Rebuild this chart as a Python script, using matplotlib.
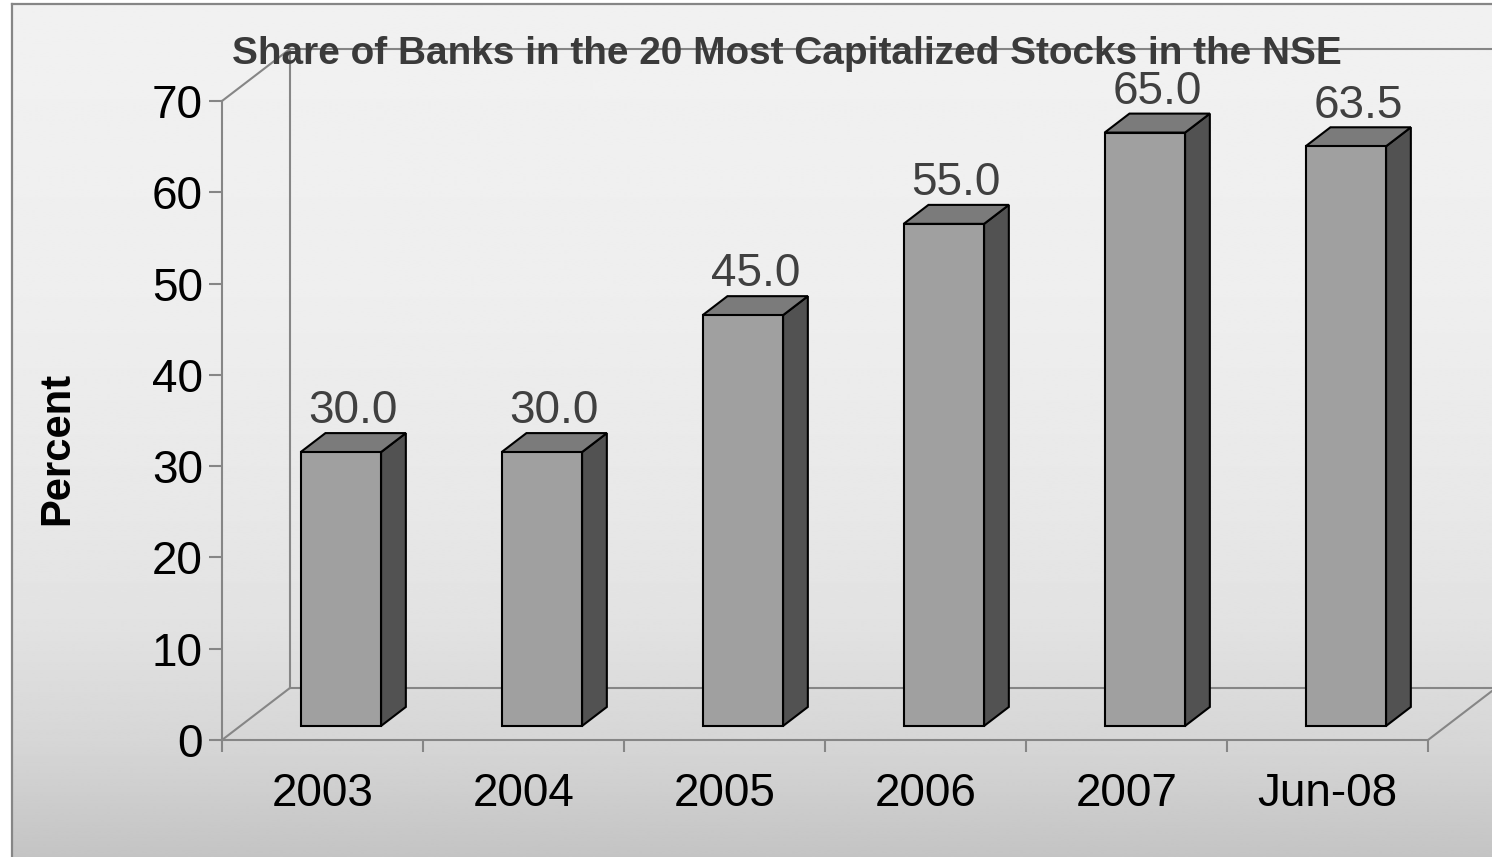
import numpy as np
import matplotlib
matplotlib.use("Agg")
import matplotlib.pyplot as plt
from matplotlib import font_manager
from matplotlib.patches import Polygon
from matplotlib.lines import Line2D

# ---- data -------------------------------------------------------------
categories = ["2003", "2004", "2005", "2006", "2007", "Jun-08"]
share = [30.0, 30.0, 45.0, 55.0, 65.0, 63.5]
y_ticks = [0, 10, 20, 30, 40, 50, 60, 70]
title = "Share of Banks in the 20 Most Capitalized Stocks in the NSE"
y_label = "Percent"

# ---- styling ----------------------------------------------------------
W, H, DPI = 1492, 857, 100
installed = {f.name for f in font_manager.fontManager.ttflist}
narrow = "Liberation Sans Narrow" in installed
base_family = "Liberation Sans Narrow" if narrow else "Liberation Sans"
plt.rcParams["font.family"] = [base_family, "DejaVu Sans"]
FS = 35 if narrow else 33

AXIS_GREY = "#868686"
FRONT, TOP, SIDE = "#a0a0a0", "#7b7b7b", "#525252"

# oblique projection used for the pseudo-3D look
DEPTH_X = 0.338      # category units shifted per full depth
DEPTH_Y = 5.7        # value units shifted per full depth
Z0, Z1 = 0.27, 0.635 # front / back of every bar, as fraction of depth
HALF_W = 0.2         # half bar width in category units


def proj(x, y, z):
    return (x + z * DEPTH_X, y + z * DEPTH_Y)


fig = plt.figure(figsize=(W / DPI, H / DPI), dpi=DPI, facecolor="white")

# chart-area panel with a soft vertical gradient
bg = fig.add_axes([12 / W, 0, 1 - 12 / W, 1 - 4 / H], zorder=0)
rows = np.linspace(0, 853, 400)
stops_y = [0, 300, 500, 620, 740, 853]
stops_v = [241, 238, 232, 226, 214, 196]
grad = np.interp(rows, stops_y, stops_v) / 255.0
bg.imshow(np.repeat(grad[:, None], 2, axis=1), cmap="gray", vmin=0, vmax=1,
          aspect="auto", extent=[0, 1, 0, 1], origin="upper", interpolation="bilinear")
bg.set_xticks([])
bg.set_yticks([])
for side in ("right", "bottom"):
    bg.spines[side].set_visible(False)
for side in ("left", "top"):
    bg.spines[side].set_color(AXIS_GREY)
    bg.spines[side].set_linewidth(1.6)

# main plotting axes (front plane)
ax = fig.add_axes([222 / W, 1 - 740 / H, (1428 - 222) / W, (740 - 101) / H], zorder=1)
ax.set_facecolor("none")
n = len(categories)
ymax = y_ticks[-1]
ax.set_xlim(0, n)
ax.set_ylim(0, ymax)
for side in ("top", "right"):
    ax.spines[side].set_visible(False)
for side in ("left", "bottom"):
    ax.spines[side].set_color(AXIS_GREY)
    ax.spines[side].set_linewidth(1.5)

ax.set_yticks(y_ticks)
ax.set_yticklabels([str(t) for t in y_ticks])
ax.tick_params(axis="y", direction="out", length=9.4, width=1.5, color=AXIS_GREY,
               pad=4.3, labelsize=FS, labelcolor="black")
ax.set_xticks(np.arange(n + 1))
ax.set_xticklabels([])
ax.tick_params(axis="x", which="major", direction="out", length=8.6, width=1.5,
               color=AXIS_GREY)
ax.set_xticks(np.arange(n) + 0.5, minor=True)
ax.set_xticklabels(categories, minor=True)
ax.tick_params(axis="x", which="minor", length=0, pad=23, labelsize=FS,
               labelcolor="black")

# back wall and floor outlines
wall_segments = [
    (proj(0, 0, 0), proj(0, 0, 1)),
    (proj(0, ymax, 0), proj(0, ymax, 1)),
    (proj(0, 0, 1), proj(0, ymax, 1)),
    (proj(0, 0, 1), proj(n, 0, 1)),
    (proj(0, ymax, 1), proj(n, ymax, 1)),
    (proj(n, 0, 0), proj(n, 0, 1)),
    (proj(n, 0, 1), proj(n, ymax, 1)),
]
for a, b in wall_segments:
    ax.add_line(Line2D([a[0], b[0]], [a[1], b[1]], color=AXIS_GREY, lw=1.5,
                       clip_on=False, zorder=1))

# pseudo-3D bars
for i, v in enumerate(share):
    xl, xr = i + 0.5 - HALF_W, i + 0.5 + HALF_W
    front = [proj(xl, 0, Z0), proj(xr, 0, Z0), proj(xr, v, Z0), proj(xl, v, Z0)]
    side = [proj(xr, 0, Z0), proj(xr, 0, Z1), proj(xr, v, Z1), proj(xr, v, Z0)]
    top = [proj(xl, v, Z0), proj(xr, v, Z0), proj(xr, v, Z1), proj(xl, v, Z1)]
    for pts, col in ((side, SIDE), (top, TOP), (front, FRONT)):
        ax.add_patch(Polygon(pts, closed=True, facecolor=col, edgecolor="black",
                             lw=1.5, joinstyle="miter", clip_on=False, zorder=3))
    lx = proj(i + 0.5, v, (Z0 + Z1) / 2)[0]
    ly = proj(i + 0.5, v, Z1)[1]
    ax.annotate(f"{v:.1f}", xy=(lx, ly), xytext=(0, 7), textcoords="offset points",
                ha="center", va="baseline", fontsize=FS, color="#404040",
                annotation_clip=False, zorder=4)

# title and axis label
t_title = fig.text(787 / W, 1 - 64 / H, title, ha="center", va="baseline",
                   fontsize=32, fontweight="bold", color="#3a3a3a", zorder=5)
t_ylab = fig.text(57 / W, 1 - 448 / H, y_label, rotation=90, ha="center",
                  va="center", fontsize=35, fontweight="bold", color="black", zorder=5)

renderer = fig.canvas.get_renderer()
bb = t_title.get_window_extent(renderer)
t_title.set_fontsize(t_title.get_fontsize() * min(1.0, 1110 / bb.width))
bb = t_ylab.get_window_extent(renderer)
t_ylab.set_fontsize(t_ylab.get_fontsize() * min(1.0, 153 / bb.height))

fig.savefig("out.png", dpi=DPI, facecolor="white")
